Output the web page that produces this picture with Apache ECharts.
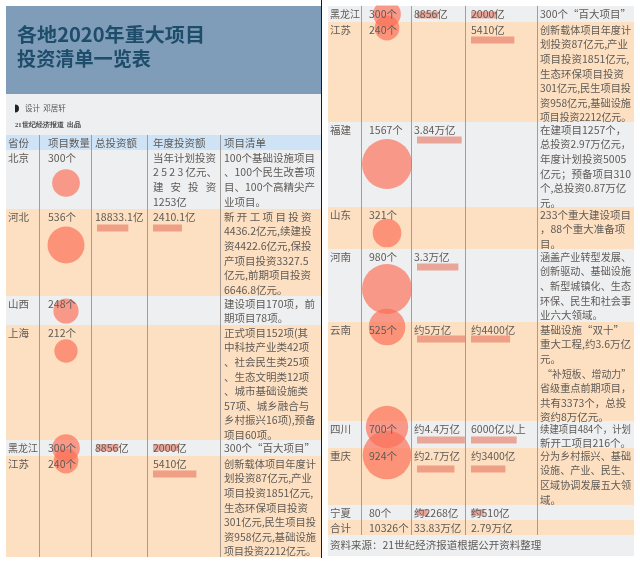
<!DOCTYPE html>
<html lang="zh">
<head>
<meta charset="UTF-8">
<title>各地2020年重大项目投资清单一览表</title>
<script src="https://cdn.jsdelivr.net/npm/echarts@6/dist/echarts.min.js"></script>
<style>
html, body { margin: 0; padding: 0; background: #fff; }
#main { width: 640px; height: 563px; }
</style>
</head>
<body>
<div id="main"></div>
<script>
// 数据
var provinces = ['北京', '河北', '山西', '上海', '黑龙江', '江苏', '福建', '山东', '河南', '云南', '四川', '重庆', '宁夏', '合计'];
var projectCounts = [300, 536, 248, 212, 300, 240, 1567, 321, 980, 525, 700, 924, 80, 10326];
// 单位：亿元
var totalInvest = [null, 18833.1, null, null, 8856, null, 38400, null, 33000, 50000, 44000, 27000, 2268, null];
var annualInvest = [null, 2410.1, null, null, 2000, 5410, null, null, null, 4400, 6000, 3400, 510, null];
var countLabels = ['300个', '536个', '248个', '212个', '300个', '240个', '1567个', '321个', '980个', '525个', '700个', '924个', '80个', '10326个'];
var totalLabels = ['', '18833.1亿', '', '', '8856亿', '', '3.84万亿', '', '3.3万亿', '约5万亿', '约4.4万亿', '约2.7万亿', '约2268亿', '33.83万亿'];
var annualLabels = [
    ['当年计划投资', '2 5 2 3 亿元、', '建   安   投   资', '1253亿'],
    ['2410.1亿'], [''], [''], ['2000亿'], ['5410亿'], [''], [''], [''],
    ['约4400亿'], ['6000亿以上'], ['约3400亿'], ['约510亿'], ['2.79万亿']
];
var projectLists = [
    ['100个基础设施项目', '、100个民生改善项', '目、100个高精尖产', '业项目。'],
    ['新 开 工 项 目 投 资', '4436.2亿元,续建投', '资4422.6亿元,保投', '产项目投资3327.5', '亿元,前期项目投资', '6646.8亿元。'],
    ['建设项目170项，前', '期项目78项。'],
    ['正式项目152项(其', '中科技产业类42项', '、社会民生类25项', '、生态文明类12项', '、城市基础设施类', '57项、城乡融合与', '乡村振兴16项),预备', '项目60项。'],
    ['300个“百大项目”'],
    ['创新载体项目年度计', '划投资87亿元,产业', '项目投资1851亿元,', '生态环保项目投资', '301亿元,民生项目投', '资958亿元,基础设施', '项目投资2212亿元。'],
    ['在建项目1257个，', '总投资2.97万亿元，', '年度计划投资5005', '亿元；预备项目310', '个,总投资0.87万亿', '元。'],
    ['233个重大建设项目', '，88个重大准备项', '目。'],
    ['涵盖产业转型发展、', '创新驱动、基础设施', '、新型城镇化、生态', '环保、民生和社会事', '业六大领域。'],
    ['基础设施“双十”', '重大工程,约3.6万亿', '元。', ' “补短板、增动力”', '省级重点前期项目，', '共有3373个，总投', '资约8万亿元。'],
    ['续建项目484个，计划', '新开工项目216个。'],
    ['分为乡村振兴、基础', '设施、产业、民生、', '区域协调发展五大领', '域。'],
    [''], ['']
];

// 版式
var LINE = 14.6;
var FONT = '"Noto Sans CJK SC", sans-serif';
var GRAY = '#eeeff1', ORANGE = '#fde0c2';
var panels = [
    { left: 6, right: 321, top: 135, bottom: 557, cols: [39, 91, 147, 220], text: [8, 48, 95, 153, 224], listWidth: 92, bubbleX: 66, barX: [97, 153] },
    { left: 328, right: 634, top: 6, bottom: 535, cols: [361, 411, 465, 537], text: [330, 369, 414, 471, 540], listWidth: 91, bubbleX: 387, barX: [417, 471] }
];
// p: 面板, top/bottom: 行范围, bub: 气泡相对行顶, bar: 条形相对行顶
var placements = [
    { row: 0, p: 0, top: 150, bottom: 209, fill: GRAY, bub: 33 },
    { row: 1, p: 0, top: 209, bottom: 296, fill: ORANGE, bub: 36, bar: 19 },
    { row: 2, p: 0, top: 296, bottom: 325, fill: GRAY, bub: 15 },
    { row: 3, p: 0, top: 325, bottom: 440, fill: ORANGE, bub: 26 },
    { row: 4, p: 0, top: 440, bottom: 456, fill: GRAY, bub: 8, bar: 7.5 },
    { row: 5, p: 0, top: 456, bottom: 557, fill: ORANGE, bub: 5, bar: 18 },
    { row: 4, p: 1, top: 6, bottom: 22, fill: GRAY, bub: 8, bar: 9 },
    { row: 5, p: 1, top: 22, bottom: 122, fill: ORANGE, bub: 6, bar: 18 },
    { row: 6, p: 1, top: 122, bottom: 207, fill: GRAY, bub: 42, bar: 18 },
    { row: 7, p: 1, top: 207, bottom: 249, fill: ORANGE, bub: 26 },
    { row: 8, p: 1, top: 249, bottom: 322, fill: GRAY, bub: 40, bar: 18 },
    { row: 9, p: 1, top: 322, bottom: 421, fill: ORANGE, bub: 5, bar: 17 },
    { row: 10, p: 1, top: 421, bottom: 448, fill: GRAY, bub: 6, bar: 19 },
    { row: 11, p: 1, top: 448, bottom: 505, fill: ORANGE, bub: 7, bar: 21 },
    { row: 12, p: 1, top: 505, bottom: 520, fill: GRAY, bar: 7.5 },
    { row: 13, p: 1, top: 520, bottom: 535, fill: ORANGE }
];

var graphics = [];
var measure = document.createElement('canvas').getContext('2d');
function rect(x0, y0, x1, y1, fill, z) {
    graphics.push({ type: 'rect', z: z || 0, silent: true, shape: { x: x0, y: y0, width: x1 - x0, height: y1 - y0 }, style: { fill: fill } });
}
function label(x, y, str, opt) {
    opt = opt || {};
    var size = opt.size || 10.5, weight = opt.weight || 'normal', family = opt.family || FONT;
    // 超宽的行压到列宽内，fit 时拉到指定宽度
    var scale = 1;
    if (opt.fit || opt.maxWidth) {
        measure.font = weight + ' ' + size + 'px ' + family;
        var w = measure.measureText(str).width;
        if (opt.fit) scale = opt.fit / w;
        else if (w > opt.maxWidth) scale = opt.maxWidth / w;
    }
    graphics.push({
        type: 'text', z: opt.z || 10, silent: true, x: x, y: y, scaleX: scale,
        style: {
            text: str, fontSize: size, fontWeight: weight,
            fontFamily: family, fill: opt.color || '#5e5a56',
            verticalAlign: 'middle', align: 'left'
        }
    });
}

// 标题区
rect(6, 6, 321, 94, '#7f9db8');
rect(6, 94, 321, 135, GRAY);
label(17, 35, '各地2020年重大项目', { size: 19.5, weight: 'bold', color: '#1e4c6b', fit: 188 });
label(17, 59, '投资清单一览表', { size: 19.5, weight: 'bold', color: '#1e4c6b', fit: 134 });
graphics.push({ type: 'sector', z: 5, silent: true, shape: { cx: 15, cy: 108.5, r: 4, startAngle: -Math.PI / 2, endAngle: Math.PI / 2 }, style: { fill: '#222' } });
label(25, 108, '设计  邓居轩', { size: 7.5, color: '#555' });
label(15, 125, '21世纪经济报道  出品', { size: 6.5, color: '#444', family: '"Liberation Serif", serif', weight: 'bold' });

// 表头
rect(6, 135, 321, 150, '#cfe3f6');
['省份', '项目数量', '总投资额', '年度投资额', '项目清单'].forEach(function (h, i) {
    label(panels[0].text[i], 143, h);
});

// 行底色和文字
placements.forEach(function (pl) {
    var p = panels[pl.p], i = pl.row;
    rect(p.left, pl.top, p.right, pl.bottom, pl.fill);
    var y = pl.top + LINE / 2 + 0.5;
    label(p.text[0], y, provinces[i], { maxWidth: 30 });
    label(p.text[1], y, countLabels[i]);
    label(p.text[2], y, totalLabels[i], { maxWidth: 51 });
    annualLabels[i].forEach(function (s, k) { label(p.text[3], y + k * LINE, s, { maxWidth: 64 }); });
    projectLists[i].forEach(function (s, k) { label(p.text[4], y + k * LINE, s, { maxWidth: p.listWidth }); });
});

// 资料来源
rect(328, 535, 634, 556, GRAY);
label(330, 545, '资料来源：21世纪经济报道根据公开资料整理');

// 竖线
panels.forEach(function (p) {
    p.cols.forEach(function (x) { rect(x, p.top, x + 0.8, p.bottom, '#8f8b86', 6); });
});
rect(321, 0, 322, 558, '#1a1a1a', 20);
// 右栏顶部被裁切
rect(325, 0, 640, 5.5, '#fff', 20);

// 气泡：面积随项目数，直径不超过列宽
var bubbleData = placements.filter(function (pl) { return pl.bub !== undefined; }).map(function (pl) {
    return [panels[pl.p].bubbleX, pl.top + pl.bub, projectCounts[pl.row]];
});

// 条形：长度随金额平方根，不超过列宽
function barData(values, col) {
    return placements.filter(function (pl) { return pl.bar !== undefined && values[pl.row] !== null; }).map(function (pl) {
        return [panels[pl.p].barX[col], pl.top + pl.bar, values[pl.row]];
    });
}
function barRender(k) {
    return function (params, api) {
        var start = api.coord([api.value(0), api.value(1)]);
        return {
            type: 'rect',
            shape: { x: start[0], y: start[1] - 3.5, width: Math.min(48, k * Math.sqrt(api.value(2))), height: 7 },
            style: { fill: '#e8735f', opacity: 0.6 }
        };
    };
}

var myChart = echarts.init(document.getElementById('main'), null, { renderer: 'canvas' });
myChart.setOption({
    animation: false,
    backgroundColor: '#fff',
    grid: { left: 0, right: 0, top: 0, bottom: 0 },
    xAxis: { type: 'value', min: 0, max: 640, show: false },
    yAxis: { type: 'value', min: 0, max: 563, inverse: true, show: false },
    graphic: { elements: graphics },
    series: [{
        type: 'scatter',
        z: 3,
        silent: true,
        clip: false,
        data: bubbleData,
        symbolSize: function (v) { return Math.min(50, 1.6 * Math.sqrt(v[2])); },
        itemStyle: { color: '#fa6f55', opacity: 0.68 }
    }, {
        type: 'custom',
        z: 4,
        silent: true,
        clip: false,
        data: barData(totalInvest, 0),
        renderItem: barRender(0.228)
    }, {
        type: 'custom',
        z: 4,
        silent: true,
        clip: false,
        data: barData(annualInvest, 1),
        renderItem: barRender(0.59)
    }]
});
</script>
</body>
</html>
